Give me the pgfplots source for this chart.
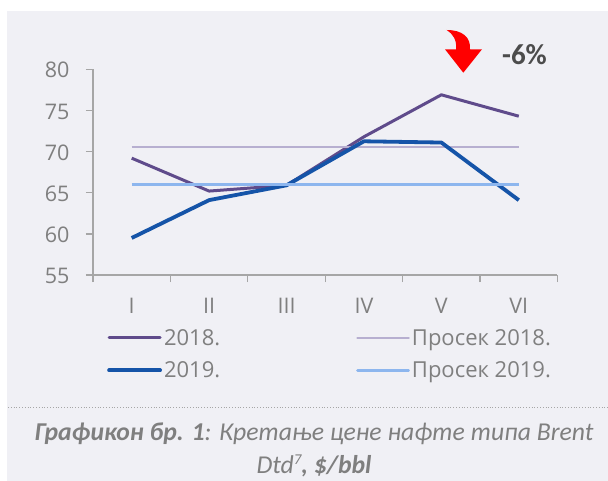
\documentclass[border=0pt]{standalone}
\usepackage{pgfplots}
\pgfplotsset{compat=1.18}
\usepackage{fontspec}
\setmainfont{Open Sans}
\newfontfamily\capfont{Carlito}
\definecolor{bgc}{HTML}{F0F0F5}
\definecolor{axc}{HTML}{A6A6A6}
\definecolor{txt}{HTML}{7F7F7F}
\definecolor{lA}{HTML}{5F4B8B}
\definecolor{lB}{HTML}{1554A8}
\definecolor{lC}{HTML}{B7AFD0}
\definecolor{lD}{HTML}{8DB6EE}
\begin{document}
\begin{tikzpicture}[x=1pt,y=1pt]
\useasboundingbox (0,0) rectangle (608,-481);
\fill[bgc] (7,-11) rectangle (608,-481);
\begin{axis}[
  at={(93pt,-275pt)}, anchor=south west,
  scale only axis, width=464.5pt, height=205.7pt,
  xmin=0.5, xmax=6.5, ymin=55, ymax=80,
  axis lines=left, axis line style={-, axc, line width=1.3pt},
  xtick={1,2,3,4,5,6}, xticklabels={I,II,III,IV,V,VI},
  minor xtick={0.5,1.5,2.5,3.5,4.5,5.5,6.5},
  ytick={55,60,65,70,75,80},
  tick align=outside,
  major tick length=7pt, minor tick length=7pt,
  x tick style={draw=none}, minor x tick style={draw=axc, line width=1.3pt},
  y tick style={axc, line width=1.3pt},
  tick label style={font=\fontsize{21.5}{24}\selectfont, text=txt},
  xticklabel style={yshift=-13pt},
  yticklabel style={xshift=-13pt, yshift=-1pt},
  /pgf/number format/assume math mode=true,
  clip=false,
  legend columns=2,
  legend cell align=left,
  legend style={at={(axis description cs:0,0)}, anchor=north west, xshift=14pt, yshift=-52pt,
    draw=none, fill=none, font=\fontsize{22}{24}\selectfont, text=txt,
    row sep=11pt, inner sep=0pt,
    /tikz/every even column/.append style={column sep=134pt}},
  legend image code/.code={\draw[#1, line cap=round] (0pt,0pt) -- (51pt,0pt);},
]
\addplot[lA, line width=3pt, line join=round] coordinates {(1,69.2)(2,65.2)(3,65.9)(4,71.8)(5,76.9)(6,74.3)};
\addlegendentry{2018.}
\addplot[lC, line width=2.8pt] coordinates {(1,70.55)(2,70.55)(3,70.55)(4,70.55)(5,70.55)(6,70.55)};
\addlegendentry{Просек 2018.}
\addplot[lB, line width=3.8pt, line join=round] coordinates {(1,59.5)(2,64.1)(3,65.9)(4,71.25)(5,71.1)(6,64.1)};
\addlegendentry{2019.}
\addplot[lD, line width=2.8pt] coordinates {(1,66)(2,66)(3,66)(4,66)(5,66)(6,66)};
\addlegendentry{Просек 2019.}
\end{axis}
\fill[red] (446.7,-30) .. controls (462,-30) and (471,-37) .. (470,-49.3) -- (482,-49.3) -- (463.3,-72.7) -- (445,-49.3) -- (456,-49.3) .. controls (457,-40) and (453,-34) .. cycle;
\node[anchor=center, font=\capfont\bfseries\fontsize{29}{32}\selectfont, text=black!70] at (524.5,-55) {-6\%};
\draw[axc, line width=0.8pt, dotted] (8,-407.7) -- (608,-407.7);
\node[anchor=center, font=\capfont\itshape\fontsize{25.7}{28}\selectfont, text=txt] at (314,-434) {\textbf{Графикон бр. 1}: Кретање цене нафте типа Brent};
\node[anchor=center, font=\capfont\itshape\fontsize{25.7}{28}\selectfont, text=txt] at (314,-465.5) {Dtd\raisebox{9pt}{\fontsize{15}{15}\selectfont 7}\textbf{, \$/bbl}};
\end{tikzpicture}
\end{document}
